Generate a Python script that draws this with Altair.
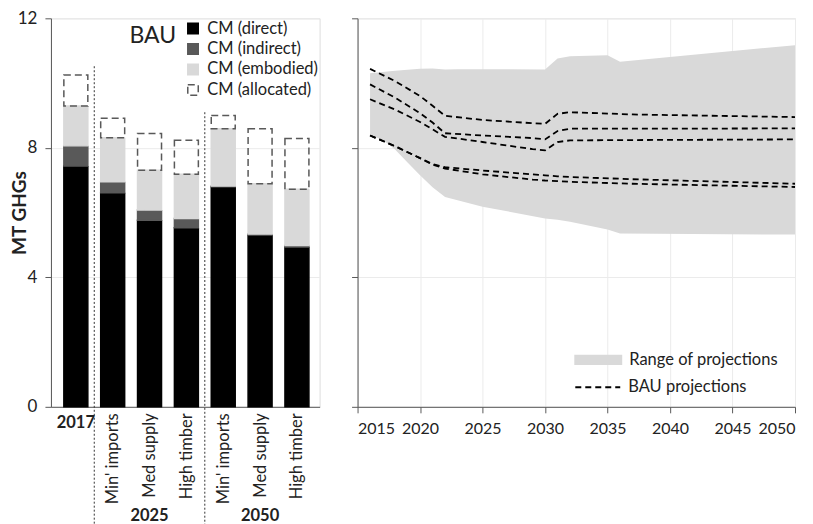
import json
import altair as alt
import pandas as pd

FONT = "Lato"

# ---------------- Left panel: stacked bars ----------------
bar_pos = [0, 1, 2, 3, 4, 5, 6]
bar_labels = ["", "Min' imports", "Med supply", "High timber", "Min' imports", "Med supply", "High timber"]
components = ["CM (direct)", "CM (indirect)", "CM (embodied)", "CM (allocated)"]
direct = [7.44, 6.61, 5.76, 5.53, 6.80, 5.31, 4.94]
indirect = [0.62, 0.34, 0.32, 0.29, 0.02, 0.03, 0.04]
embodied = [1.23, 1.36, 1.23, 1.36, 1.77, 1.55, 1.74]
allocated = [0.96, 0.60, 1.13, 1.05, 0.41, 1.70, 1.57]
fill_colors = ["#000000", "#595959", "#d9d9d9", "transparent"]
stroke_colors = ["#000000", "#595959", "#d9d9d9", "#595959"]
dashes = [[1, 0], [1, 0], [1, 0], [7, 4]]

group_pos = [0, 2, 5]
group_labels = ["2017", "2025", "2050"]

sep_pos = [0.5, 3.5]
sep_top = [10.52, 9.10]
sep_bottom = [-3.7, -3.7]

# ---------------- Right panel: projections ----------------
range_years = [2016, 2017, 2018, 2019, 2020, 2021, 2022, 2023, 2025, 2030, 2031, 2032, 2035, 2036, 2050]
range_upper = [10.30, 10.34, 10.38, 10.41, 10.44, 10.45, 10.42, 10.43, 10.43, 10.42, 10.76, 10.83, 10.86, 10.66, 11.17]
range_lower = [8.38, 8.25, 7.95, 7.55, 7.15, 6.78, 6.48, 6.38, 6.18, 5.82, 5.78, 5.72, 5.48, 5.35, 5.32]

line_years = [2016, 2018, 2020, 2021, 2022, 2025, 2029, 2030, 2031, 2032, 2037, 2050]
line_a = [10.44, 10.06, 9.60, 9.30, 8.99, 8.86, 8.76, 8.74, 9.05, 9.10, 9.03, 8.95]
line_b = [9.96, 9.55, 9.07, 8.78, 8.45, 8.38, 8.30, 8.26, 8.52, 8.59, 8.59, 8.60]
line_c = [9.50, 9.18, 8.80, 8.57, 8.34, 8.18, 7.96, 7.92, 8.18, 8.23, 8.24, 8.26]
line_d = [8.38, 8.05, 7.68, 7.50, 7.40, 7.30, 7.18, 7.15, 7.12, 7.10, 7.03, 6.89]
line_e = [8.38, 8.05, 7.68, 7.48, 7.36, 7.18, 7.02, 6.99, 6.97, 6.95, 6.89, 6.79]
x_ticks = [2015, 2020, 2025, 2030, 2035, 2040, 2045, 2050]

# ---------------- Tables ----------------
rows = []
for i, p in enumerate(bar_pos):
    for k, (comp, vals) in enumerate(zip(components, [direct, indirect, embodied, allocated])):
        rows.append({"pos": p, "component": comp, "ord": k, "value": vals[i]})
bars_df = pd.DataFrame(rows)
groups_df = pd.DataFrame({"pos": group_pos, "label": group_labels})
sep_df = pd.DataFrame({"pos": sep_pos, "top": sep_top, "bottom": sep_bottom})

range_df = pd.DataFrame({"year": range_years, "upper": range_upper, "lower": range_lower,
                         "kind": "Range of projections"})
lrows = []
for name, vals in zip(["A", "B", "C", "D", "E"], [line_a, line_b, line_c, line_d, line_e]):
    for y, v in zip(line_years, vals):
        lrows.append({"year": y, "value": v, "series": name, "kind": "BAU projections"})
lines_df = pd.DataFrame(lrows)

W_L, W_R, H = 269, 438, 389
AXC = "#595959"
GRID = "#ebebeb"
TXT = "#222222"

label_expr = json.dumps(bar_labels) + "[datum.value]"

xL = alt.X("pos:Q", scale=alt.Scale(domain=[-0.54, 6.48], nice=False, zero=False),
           axis=alt.Axis(values=bar_pos, labelExpr=label_expr, labelAngle=-90, labelAlign="right",
                         labelBaseline="middle", title=None, grid=False, ticks=False,
                         domainColor=AXC, labelFontSize=16.5, labelPadding=6, labelColor=TXT,
                         labelFont=FONT))
yscale = alt.Scale(domain=[0, 12], nice=False, zero=True)
yL_axis = alt.Axis(values=[0, 4, 8, 12], title="MT GHGs", titleFontWeight="bold", titleFontSize=19,
                   titleFont=FONT, titleColor=TXT, titleX=-31, titleY=H / 2, titleAngle=-90,
                   titleBaseline="middle", titleAlign="center",
                   labelFontSize=17, labelFont=FONT, labelColor=TXT, tickSize=6, labelPadding=8,
                   grid=True, gridColor=GRID, domainColor=AXC, tickColor=AXC)

bars = alt.Chart(bars_df).mark_bar(width=24, strokeWidth=1.5).encode(
    x=xL,
    y=alt.Y("value:Q", stack="zero", scale=yscale, axis=yL_axis),
    fill=alt.Fill("component:N", scale=alt.Scale(domain=components, range=fill_colors),
                  legend=alt.Legend(title=None, orient="none", legendX=134, legendY=2,
                                    symbolType="square", symbolSize=110, symbolStrokeWidth=1.5,
                                    labelFontSize=16.5, labelFont=FONT, labelColor=TXT,
                                    rowPadding=3.5, labelOffset=6, padding=0)),
    stroke=alt.Stroke("component:N", scale=alt.Scale(domain=components, range=stroke_colors),
                      legend=alt.Legend(title=None, orient="none", legendX=134, legendY=2)),
    strokeDash=alt.StrokeDash("component:N", scale=alt.Scale(domain=components, range=dashes),
                              legend=alt.Legend(title=None, orient="none", legendX=134, legendY=2)),
    order=alt.Order("ord:Q", sort="ascending"),
)

seps = alt.Chart(sep_df).mark_rule(strokeDash=[2, 2], color="#333333", strokeWidth=1).encode(
    x="pos:Q", y="top:Q", y2="bottom:Q")

gtext_a = alt.Chart(groups_df[groups_df["label"] == "2017"]).mark_text(
    fontWeight="bold", fontSize=16.5, font=FONT, color=TXT, baseline="middle").encode(
    x="pos:Q", y=alt.value(H + 16), text="label:N")
gtext_b = alt.Chart(groups_df[groups_df["label"] != "2017"]).mark_text(
    fontWeight="bold", fontSize=16.5, font=FONT, color=TXT, baseline="middle").encode(
    x="pos:Q", y=alt.value(H + 109), text="label:N")

bau = alt.Chart(pd.DataFrame({"t": ["BAU"]})).mark_text(
    fontSize=23, font=FONT, color=TXT, baseline="middle", align="center").encode(
    x=alt.value(102), y=alt.value(18), text="t:N")

left = alt.layer(bars, seps, gtext_a, gtext_b, bau).properties(width=W_L, height=H)

xR = alt.X("year:Q", scale=alt.Scale(domain=[2015, 2050], nice=False, zero=False),
           axis=alt.Axis(values=x_ticks, format="d", title=None, tickSize=6, labelPadding=8,
                         labelFontSize=16, labelFont=FONT, labelColor=TXT, grid=True,
                         gridColor=GRID, domainColor=AXC, tickColor=AXC))
yR_axis = alt.Axis(values=[0, 4, 8, 12], labels=False, title=None, tickSize=6, grid=True,
                   gridColor=GRID, domainColor=AXC, tickColor=AXC)

area = alt.Chart(range_df).mark_area(opacity=1).encode(
    x=xR,
    y=alt.Y("lower:Q", scale=yscale, axis=yR_axis),
    y2="upper:Q",
    fill=alt.Fill("kind:N", scale=alt.Scale(range=["#d9d9d9"]),
                  legend=alt.Legend(title=None, orient="none", legendX=217, legendY=318,
                                    symbolType="M-1,-0.21L1,-0.21L1,0.21L-1,0.21Z",
                                    symbolSize=2304, symbolStrokeWidth=0, symbolOpacity=1,
                                    labelFontSize=16.5, labelFont=FONT, labelColor=TXT,
                                    labelOffset=7, padding=0)),
)

lines = alt.Chart(lines_df).mark_line(color="black", strokeWidth=1.8).encode(
    x="year:Q",
    y=alt.Y("value:Q", scale=yscale),
    detail="series:N",
    strokeDash=alt.StrokeDash("kind:N", scale=alt.Scale(range=[[6, 4]]),
                              legend=alt.Legend(title=None, orient="none", legendX=217, legendY=346,
                                                symbolType="stroke", symbolSize=2025,
                                                symbolStrokeColor="black", symbolStrokeWidth=2,
                                                labelFontSize=16.5, labelFont=FONT, labelColor=TXT,
                                                labelOffset=7, padding=0)),
)

right = alt.layer(area, lines).properties(width=W_R, height=H)

chart = alt.hconcat(left, right, spacing=30).resolve_scale(
    x="independent", y="independent", fill="independent", stroke="independent",
    strokeDash="independent"
).resolve_legend(
    fill="independent", stroke="independent", strokeDash="independent"
).configure_view(stroke=None).configure(
    font=FONT
).properties(padding={"left": 2, "top": 0, "right": 5, "bottom": 0})

chart.save("out.html", embed_options={"renderer": "svg", "actions": False})
